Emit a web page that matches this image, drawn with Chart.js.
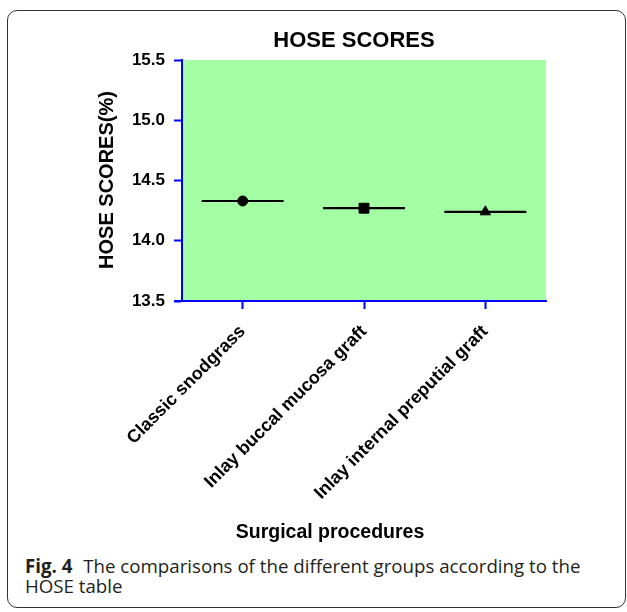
<!DOCTYPE html>
<html>
<head>
<meta charset="utf-8">
<script src="https://cdn.jsdelivr.net/npm/chart.js@4.4.1/dist/chart.umd.min.js"></script>
<style>
  html, body { margin: 0; padding: 0; background: #fff; }
  body { width: 627px; height: 612px; position: relative; overflow: hidden; }
  .box {
    position: absolute; left: 7px; top: 10px; width: 617px; height: 596px;
    border: 1px solid #333; border-radius: 10px;
  }
  #wrap { position: absolute; left: 0; top: 0; width: 627px; height: 548px; }
  .caption {
    position: absolute; left: 25px; top: 556px; width: 560px;
    font-family: "Open Sans", sans-serif; font-size: 18.7px; line-height: 20px; color: #231f20;
  }
  .caption b { font-weight: 700; margin-right: 6px; }
</style>
</head>
<body>
<div class="box"></div>
<div id="wrap"><canvas id="mainChart"></canvas></div>
<div class="caption"><b>Fig. 4</b> The comparisons of the different groups according to the HOSE table</div>

<script>
const ctx = document.getElementById('mainChart');

// Dados do gráfico
const categorias = ['Classic snodgrass', 'Inlay buccal mucosa graft', 'Inlay internal preputial graft'];
const medias = [14.33, 14.27, 14.24]; // HOSE score medio por grupo
const marcadores = ['circle', 'rect', 'triangle'];
const tamanhoMarcador = [5, 7, 6];
const yTicks = [13.5, 14.0, 14.5, 15.0, 15.5];

const azul = '#0000ff';
const verde = '#a4ffa4';
const fonte = 'Arial, "Liberation Sans", sans-serif';

Chart.defaults.font.family = fonte;

// fundo verde + titulos
const enfeites = {
  id: 'enfeites',
  beforeDraw(chart) {
    const { ctx, chartArea: a } = chart;
    ctx.save();
    ctx.fillStyle = verde;
    ctx.fillRect(a.left, a.top, a.right - a.left, a.bottom - a.top);
    // eixo x continua ate o tick de 13.5
    ctx.strokeStyle = azul;
    ctx.lineWidth = 2;
    ctx.beginPath();
    ctx.moveTo(a.left - 8, a.bottom);
    ctx.lineTo(a.left, a.bottom);
    ctx.stroke();
    ctx.restore();
  },
  afterDraw(chart) {
    const c = chart.ctx;
    c.save();
    c.fillStyle = '#000';
    c.textAlign = 'center';
    c.textBaseline = 'alphabetic';
    c.font = 'bold 22px ' + fonte;
    c.fillText('HOSE SCORES', 354, 47);
    c.font = 'bold 19.5px ' + fonte;
    c.fillText('Surgical procedures', 330, 538);
    c.translate(113, 180);
    c.rotate(-Math.PI / 2);
    c.font = 'bold 20px ' + fonte;
    c.fillText('HOSE SCORES(%)', 0, 0);
    c.restore();
  }
};

const gradeEixo = {
  display: true,
  drawOnChartArea: false,
  drawTicks: true,
  tickLength: 8,
  tickColor: azul,
  tickWidth: 2,
  color: azul
};

const config = {
  type: 'line',
  data: {
    labels: categorias,
    datasets: [
      {
        // traço da media
        data: medias,
        showLine: false,
        pointStyle: 'line',
        pointRadius: 41,
        pointHoverRadius: 41,
        borderColor: '#000',
        pointBorderColor: '#000',
        pointBorderWidth: 2.2,
        backgroundColor: '#000'
      },
      {
        data: medias,
        showLine: false,
        pointStyle: marcadores,
        pointRadius: tamanhoMarcador,
        pointBackgroundColor: '#000',
        pointBorderColor: '#000',
        pointBorderWidth: 1
      }
    ]
  },
  options: {
    responsive: true,
    maintainAspectRatio: false,
    animation: false,
    events: [],
    layout: { padding: { left: 0, right: 81, top: 60, bottom: 0 } },
    plugins: {
      legend: { display: false },
      title: { display: false },
      tooltip: { enabled: false }
    },
    scales: {
      x: {
        type: 'category',
        offset: true,
        grid: gradeEixo,
        border: { display: true, color: azul, width: 2 },
        ticks: {
          color: '#000',
          font: { size: 18, weight: 'bold' },
          minRotation: 45,
          maxRotation: 45,
          padding: 12,
          autoSkip: false
        },
        afterFit(scale) { scale.height = 548 - 301; }
      },
      y: {
        min: 13.5,
        max: 15.5,
        grid: gradeEixo,
        border: { display: true, color: azul, width: 2 },
        afterBuildTicks(scale) { scale.ticks = yTicks.map(v => ({ value: v })); },
        ticks: {
          color: '#000',
          font: { size: 17, weight: 'bold' },
          padding: 9,
          callback: v => Number(v).toFixed(1)
        },
        afterFit(scale) { scale.width = 182; }
      }
    }
  },
  plugins: [enfeites]
};

new Chart(ctx, config);
</script>
</body>
</html>
